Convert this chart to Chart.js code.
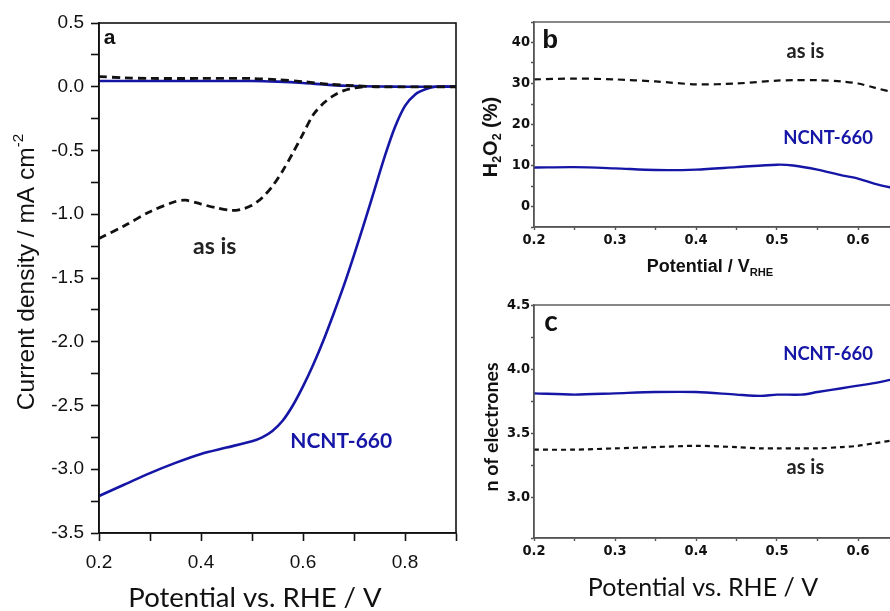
<!DOCTYPE html>
<html>
<head>
<meta charset="utf-8">
<script src="https://cdn.jsdelivr.net/npm/chart.js"></script>
<style>
  html, body { margin: 0; padding: 0; background: #fff; }
  #wrap { position: relative; width: 890px; height: 611px; overflow: hidden; }
  canvas { position: absolute; }
</style>
</head>
<body>
<div id="wrap">
  <canvas id="chartA" width="470" height="611" style="left:0;top:0"></canvas>
  <canvas id="chartB" width="570" height="285" style="left:470px;top:0"></canvas>
  <canvas id="chartC" width="570" height="326" style="left:470px;top:285px"></canvas>
</div>
<script>
// panel a: polarisation curves (potential / V vs RHE, current density / mA cm-2)
const aNcntX = [0.20, 0.25, 0.30, 0.35, 0.40, 0.45, 0.50, 0.52, 0.54, 0.56, 0.58, 0.60, 0.62, 0.64, 0.66, 0.68, 0.70, 0.72, 0.74, 0.76, 0.78, 0.80, 0.82, 0.84, 0.86, 0.90];
const aNcntY = [-3.21, -3.12, -3.03, -2.95, -2.88, -2.83, -2.78, -2.75, -2.70, -2.62, -2.50, -2.35, -2.18, -1.99, -1.78, -1.56, -1.32, -1.07, -0.81, -0.55, -0.32, -0.15, -0.06, -0.02, 0.00, 0.00];
const aNcntBaseX = [0.20, 0.30, 0.40, 0.50, 0.55, 0.60, 0.65, 0.70, 0.75, 0.80, 0.90];
const aNcntBaseY = [0.045, 0.045, 0.045, 0.045, 0.04, 0.03, 0.015, 0.006, 0.002, 0.0, 0.0];
const aAsIsX = [0.20, 0.25, 0.30, 0.35, 0.37, 0.40, 0.43, 0.46, 0.48, 0.50, 0.52, 0.54, 0.56, 0.58, 0.60, 0.62, 0.64, 0.66, 0.68, 0.70, 0.72];
const aAsIsY = [-1.19, -1.09, -0.98, -0.90, -0.89, -0.92, -0.95, -0.97, -0.96, -0.93, -0.87, -0.78, -0.66, -0.52, -0.37, -0.22, -0.13, -0.07, -0.03, -0.01, 0.0];
const aAsIsBaseX = [0.20, 0.25, 0.30, 0.40, 0.50, 0.55, 0.60, 0.65, 0.70, 0.75, 0.90];
const aAsIsBaseY = [0.08, 0.07, 0.065, 0.065, 0.065, 0.055, 0.04, 0.02, 0.008, 0.0, 0.0];

// panel b: H2O2 yield (%)
const bPotential = [0.20, 0.25, 0.30, 0.35, 0.40, 0.45, 0.50, 0.52, 0.55, 0.58, 0.60, 0.62, 0.65];
const bAsIs = [31.0, 31.2, 31.0, 30.5, 29.8, 30.0, 30.7, 30.8, 30.8, 30.5, 30.0, 29.0, 27.5];
const bNcnt = [9.5, 9.6, 9.3, 8.9, 9.0, 9.6, 10.2, 10.0, 9.0, 7.6, 6.8, 5.6, 4.2];

// panel c: number of electrons
const cPotential = [0.20, 0.25, 0.30, 0.35, 0.40, 0.45, 0.48, 0.50, 0.53, 0.55, 0.58, 0.60, 0.62, 0.65];
const cNcnt = [3.81, 3.80, 3.81, 3.82, 3.82, 3.80, 3.79, 3.80, 3.80, 3.82, 3.85, 3.87, 3.89, 3.93];
const cAsIs = [3.37, 3.37, 3.38, 3.39, 3.40, 3.39, 3.38, 3.38, 3.38, 3.38, 3.39, 3.40, 3.42, 3.45];

const BLUE = '#1616a6';
const INK = '#111';
const ARIAL = "'Liberation Sans', Arial, sans-serif";
const NARROW = "'Liberation Sans Narrow', 'DejaVu Sans Condensed', 'Liberation Sans', sans-serif";
const CALIB = "Lato, 'Open Sans', sans-serif";

const pts = (xs, ys) => xs.map((x, i) => ({ x, y: ys[i] }));

// draws a centred string made of parts, some of them sub/superscript
function richText(ctx, parts, x, y, angle, size, family, weight, color) {
    ctx.save();
    ctx.translate(x, y);
    ctx.rotate(angle);
    ctx.fillStyle = color;
    ctx.textAlign = 'left';
    ctx.textBaseline = 'alphabetic';
    const fontFor = p => `${weight} ${(p.sub || p.sup) ? size * 0.62 : size}px ${family}`;
    let total = 0;
    parts.forEach(p => { ctx.font = fontFor(p); total += ctx.measureText(p.t).width; });
    let cx = -total / 2;
    parts.forEach(p => {
        ctx.font = fontFor(p);
        const dy = p.sub ? size * 0.22 : p.sup ? -size * 0.42 : 0;
        ctx.fillText(p.t, cx, dy + size * 0.35);
        cx += ctx.measureText(p.t).width;
    });
    ctx.restore();
}

// frame round the plot, labels inside it, axis titles
function decor(frame, notes, titles) {
    return {
        id: 'decor',
        afterDatasetsDraw(chart) {
            const { ctx, chartArea: a, scales } = chart;
            ctx.save();
            ctx.strokeStyle = frame.color;
            ctx.lineWidth = frame.width;
            ctx.strokeRect(a.left, a.top, a.right - a.left, a.bottom - a.top);
            ctx.textAlign = 'center';
            ctx.textBaseline = 'middle';
            notes.forEach(n => {
                ctx.font = n.font;
                ctx.fillStyle = n.color;
                ctx.fillText(n.text, scales.x.getPixelForValue(n.x), scales.y.getPixelForValue(n.y));
            });
            ctx.restore();
        },
        afterDraw(chart) {
            titles.forEach(t => richText(chart.ctx, t.parts, t.x, t.y, t.angle || 0, t.size, t.family, t.weight, t.color));
        }
    };
}

function axisOpts(o) {
    return {
        type: 'linear', min: o.min, max: o.max,
        afterFit: s => { if (o.width) s.width = o.width; if (o.height) s.height = o.height; },
        title: { display: false },
        ticks: {
            stepSize: o.step, autoSkip: false, maxRotation: 0, padding: o.pad,
            color: INK, font: o.font, callback: o.label
        },
        grid: { drawOnChartArea: false, tickLength: o.tick, tickColor: o.line, tickWidth: o.lw },
        border: { color: o.line, width: o.lw }
    };
}

const common = {
    responsive: false, animation: false,
    elements: { point: { radius: 0 }, line: { tension: 0.3, fill: false } },
    plugins: { legend: { display: false }, tooltip: { enabled: false } }
};

// ---- panel a
new Chart(document.getElementById('chartA'), {
    type: 'line',
    data: {
        datasets: [
            { label: 'as is', data: pts(aAsIsX, aAsIsY), borderColor: INK, borderDash: [8, 5], borderWidth: 2.8 },
            { label: 'as is (anodic)', data: pts(aAsIsBaseX, aAsIsBaseY), borderColor: INK, borderDash: [8, 5], borderWidth: 2.8 },
            { label: 'NCNT-660', data: pts(aNcntX, aNcntY), borderColor: BLUE, borderWidth: 2.6 },
            { label: 'NCNT-660 (anodic)', data: pts(aNcntBaseX, aNcntBaseY), borderColor: BLUE, borderWidth: 2.6 }
        ]
    },
    options: {
        ...common,
        layout: { padding: { top: 23, right: 14, left: 0, bottom: 0 } },
        scales: {
            x: axisOpts({ min: 0.2, max: 0.9, step: 0.1, height: 78, pad: 10, tick: 8, line: INK, lw: 1.6,
                font: { family: ARIAL, size: 19 },
                label: v => (Math.round(v * 10) % 2 === 0 ? v.toFixed(1) : '') }),
            y: axisOpts({ min: -3.5, max: 0.5, step: 0.25, width: 99, pad: 7, tick: 8, line: INK, lw: 1.6,
                font: { family: ARIAL, size: 19 },
                label: v => (Math.round(v * 100) % 50 === 0 ? v.toFixed(1) : '') })
        }
    },
    plugins: [decor({ color: INK, width: 1.6 }, [
        { text: 'a', x: 0.221, y: 0.38, font: `bold 21px ${ARIAL}`, color: INK },
        { text: 'as is', x: 0.427, y: -1.25, font: `bold 23px ${CALIB}`, color: '#222' },
        { text: 'NCNT-660', x: 0.675, y: -2.78, font: `bold 21px ${CALIB}`, color: BLUE }
    ], [
        { parts: [{ t: 'Current density / mA cm' }, { t: '-2', sup: true }], x: 25, y: 272, angle: -Math.PI / 2,
          size: 24.5, family: ARIAL, weight: 'normal', color: INK },
        { parts: [{ t: 'Potential vs. RHE / V' }], x: 255, y: 597, size: 27.5, family: CALIB, weight: 'normal', color: INK }
    ])]
});

// ---- panel b
new Chart(document.getElementById('chartB'), {
    type: 'line',
    data: {
        datasets: [
            { label: 'as is', data: pts(bPotential, bAsIs), borderColor: INK, borderDash: [7, 5], borderWidth: 2.2 },
            { label: 'NCNT-660', data: pts(bPotential, bNcnt), borderColor: BLUE, borderWidth: 2.4 }
        ]
    },
    options: {
        ...common,
        layout: { padding: { top: 22, right: 20, left: 0, bottom: 0 } },
        scales: {
            x: axisOpts({ min: 0.2, max: 0.8, step: 0.05, height: 58, pad: 2, tick: 3, line: '#555', lw: 1.4,
                font: { family: NARROW, size: 14.5, weight: 'bold' },
                label: v => (Math.round(v * 100) % 10 === 0 ? v.toFixed(1) : '') }),
            y: axisOpts({ min: -5, max: 45, step: 5, width: 64, pad: 1, tick: 3, line: '#555', lw: 1.4,
                font: { family: NARROW, size: 14.5, weight: 'bold' },
                label: v => (Math.round(v) % 10 === 0 ? String(v) : '') })
        }
    },
    plugins: [decor({ color: '#555', width: 1.4 }, [
        { text: 'b', x: 0.22, y: 40.5, font: `bold 26px ${ARIAL}`, color: INK },
        { text: 'as is', x: 0.535, y: 37.8, font: `bold 20px ${CALIB}`, color: '#222' },
        { text: 'NCNT-660', x: 0.563, y: 16.6, font: `bold 18.5px ${CALIB}`, color: BLUE }
    ], [
        { parts: [{ t: 'H' }, { t: '2', sub: true }, { t: 'O' }, { t: '2', sub: true }, { t: ' (%)' }], x: 20, y: 137,
          angle: -Math.PI / 2, size: 20, family: ARIAL, weight: 'bold', color: INK },
        { parts: [{ t: 'Potential / V' }, { t: 'RHE', sub: true }], x: 240, y: 266, size: 18, family: ARIAL, weight: 'bold', color: INK }
    ])]
});

// ---- panel c
new Chart(document.getElementById('chartC'), {
    type: 'line',
    data: {
        datasets: [
            { label: 'as is', data: pts(cPotential, cAsIs), borderColor: INK, borderDash: [5, 4], borderWidth: 2.2 },
            { label: 'NCNT-660', data: pts(cPotential, cNcnt), borderColor: BLUE, borderWidth: 2.4 }
        ]
    },
    options: {
        ...common,
        layout: { padding: { top: 20, right: 20, left: 0, bottom: 0 } },
        scales: {
            x: axisOpts({ min: 0.2, max: 0.8, step: 0.05, height: 73, pad: 2, tick: 3, line: '#555', lw: 1.4,
                font: { family: NARROW, size: 14.5, weight: 'bold' },
                label: v => (Math.round(v * 100) % 10 === 0 ? v.toFixed(1) : '') }),
            y: axisOpts({ min: 2.68, max: 4.5, step: 0.25, width: 64, pad: 1, tick: 3, line: '#555', lw: 1.4,
                font: { family: NARROW, size: 14.5, weight: 'bold' },
                label: v => (Math.round(v * 100) % 50 === 0 ? v.toFixed(1) : '') })
        }
    },
    plugins: [decor({ color: '#555', width: 1.4 }, [
        { text: 'c', x: 0.221, y: 4.37, font: `bold 28px ${CALIB}`, color: INK },
        { text: 'NCNT-660', x: 0.563, y: 4.12, font: `bold 18.5px ${CALIB}`, color: BLUE },
        { text: 'as is', x: 0.535, y: 3.23, font: `bold 20px ${CALIB}`, color: '#222' }
    ], [
        { parts: [{ t: 'n of electrones' }], x: 21, y: 142, angle: -Math.PI / 2, size: 19.5, family: CALIB, weight: 'bold', color: INK },
        { parts: [{ t: 'Potential vs. RHE / V' }], x: 233, y: 302, size: 25, family: CALIB, weight: 'normal', color: INK }
    ])]
});
</script>
</body>
</html>
